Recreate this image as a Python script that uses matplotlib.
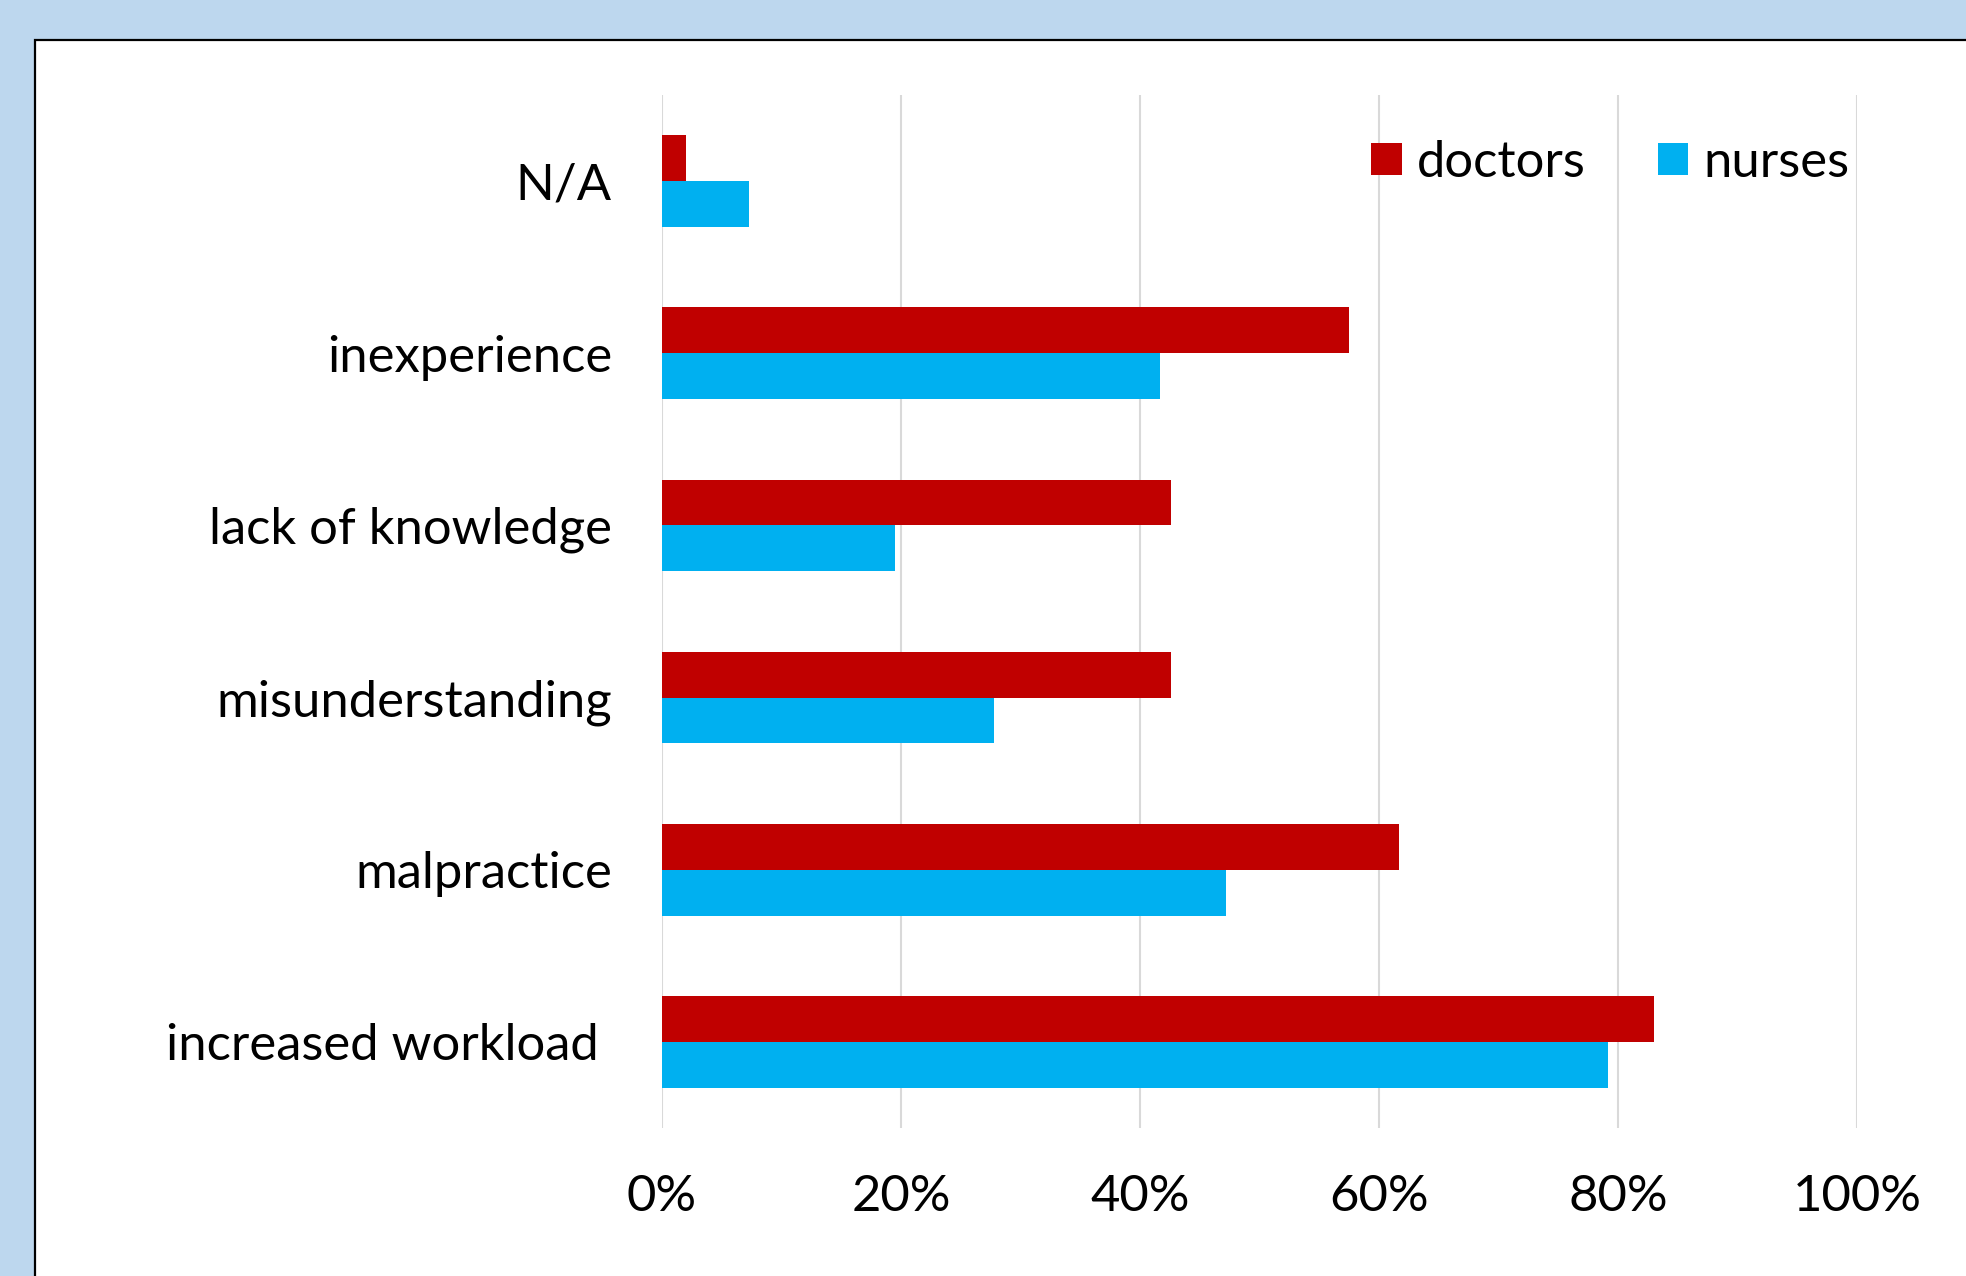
import matplotlib.pyplot as plt
from matplotlib.patches import Rectangle
from matplotlib.ticker import PercentFormatter
import numpy as np

# data (bottom to top as drawn)
categories = ['increased workload ', 'malpractice', 'misunderstanding',
              'lack of knowledge', 'inexperience', 'N/A']
doctors = [83.0, 61.7, 42.6, 42.6, 57.5, 2.0]
nurses = [79.2, 47.2, 27.8, 19.5, 41.7, 7.3]
xticks = [0, 20, 40, 60, 80, 100]

red = '#C00000'
blue = '#00B0F0'

plt.rcParams['font.family'] = ['Lato', 'DejaVu Sans']
fs = 36.5

fig = plt.figure(figsize=(19.66, 12.76), dpi=100)
fig.patch.set_facecolor('#BDD7EE')

# white panel with black border, running off the right and bottom edge
panel = Rectangle((35 / 1966, -0.1), 1.2, 1.1 - 40 / 1276,
                  transform=fig.transFigure, facecolor='white',
                  edgecolor='black', linewidth=1.6, zorder=-5)
fig.add_artist(panel)

ax = fig.add_axes([662 / 1966, 1 - 1128 / 1276, 1195 / 1966, 1033 / 1276])
ax.set_facecolor('none')

y = np.arange(len(categories))
h = 0.266
ax.barh(y + h / 2, doctors, height=h, color=red, label='doctors', zorder=3)
ax.barh(y - h / 2, nurses, height=h, color=blue, label='nurses', zorder=3)

ax.set_xlim(0, 100)
ax.set_ylim(-0.5, len(categories) - 0.5)
ax.set_xticks(xticks)
ax.xaxis.set_major_formatter(PercentFormatter(decimals=0))
ax.set_yticks(y)
ax.set_yticklabels(categories)
ax.grid(axis='x', color='#D9D9D9', linewidth=1.5, zorder=0)
ax.tick_params(axis='both', length=0, labelsize=fs)
ax.tick_params(axis='x', pad=33)
ax.tick_params(axis='y', pad=36)
for s in ax.spines.values():
    s.set_visible(False)

ax.legend(loc='center left', bbox_to_anchor=(1346 / 1966, 1 - 163 / 1276),
          bbox_transform=fig.transFigure, ncol=2, frameon=False,
          fontsize=fs, handlelength=0.6, handleheight=0.6,
          handletextpad=0.3, columnspacing=1.42, borderpad=0)

fig.savefig('out.png', dpi=100, facecolor=fig.get_facecolor())
